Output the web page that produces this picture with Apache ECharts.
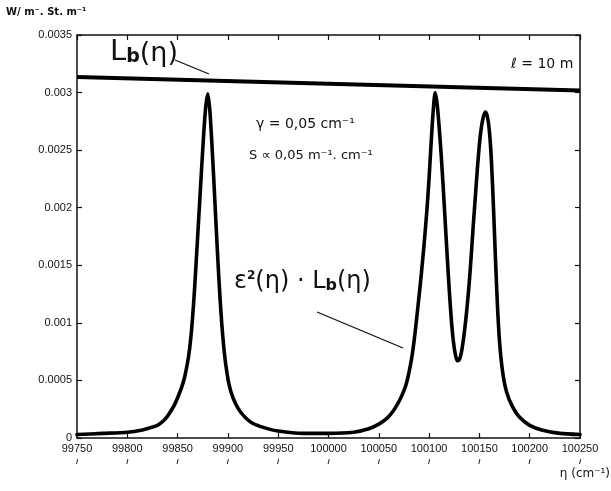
<!DOCTYPE html>
<html>
<head>
<meta charset="utf-8">
<script src="https://cdn.jsdelivr.net/npm/echarts@6/dist/echarts.min.js"></script>
<style>
  html, body { margin: 0; padding: 0; background: #ffffff; }
  #chart { width: 611px; height: 491px; }
</style>
</head>
<body>
<div id="chart"></div>
<script>
// Wavenumber (cm⁻¹) and emitted radiance ε²(η)·Lb(η)
const wavenumber = [
  99750, 99775, 99800, 99815, 99823, 99830, 99836, 99840, 99843, 99847,
  99850, 99854, 99857, 99860, 99862, 99864, 99866, 99868, 99870, 99872,
  99874, 99876, 99878, 99880, 99882, 99884, 99886, 99888, 99890, 99892,
  99894, 99896, 99898, 99901, 99905, 99910, 99916, 99924, 99936, 99950,
  99975, 100000, 100025, 100040, 100050, 100058, 100064, 100069, 100073, 100077,
  100080, 100083, 100086, 100089, 100092, 100095, 100098, 100100, 100102, 100104,
  100106, 100108, 100110, 100112, 100114, 100116, 100118, 100120, 100122, 100124,
  100126, 100128, 100130, 100132, 100134, 100136, 100138, 100140, 100142, 100144,
  100146, 100148, 100150, 100152, 100154, 100156, 100158, 100160, 100162, 100164,
  100166, 100168, 100170, 100173, 100177, 100183, 100190, 100200, 100212, 100230,
  100250
];
const emission = [
  0.00003, 0.00004, 0.00005, 0.00007, 0.00009, 0.00011, 0.00015, 0.00019, 0.00023, 0.00029,
  0.00035, 0.00044, 0.00053, 0.00066, 0.00078, 0.00095, 0.00118, 0.00146, 0.00176, 0.00206,
  0.00236, 0.00265, 0.00288, 0.00299, 0.00285, 0.00257, 0.00224, 0.00189, 0.00155, 0.00124,
  0.00098, 0.00078, 0.00063, 0.00047, 0.00035, 0.00026, 0.00019, 0.00013, 0.00009, 0.00006,
  0.00004, 0.00004, 0.00005, 0.00008, 0.00012, 0.00017, 0.00023, 0.00030, 0.00037, 0.00046,
  0.00057, 0.00071, 0.00091, 0.00115, 0.00140, 0.00168, 0.00200, 0.00226, 0.00256, 0.00283,
  0.00300, 0.00290, 0.00270, 0.00246, 0.00218, 0.00188, 0.00158, 0.00129, 0.00104, 0.00085,
  0.00073, 0.00067, 0.00068, 0.00074, 0.00085, 0.00099, 0.00116, 0.00136, 0.00160, 0.00186,
  0.00210, 0.00234, 0.00255, 0.00270, 0.00279, 0.00283, 0.00279, 0.00266, 0.00240, 0.00200,
  0.00155, 0.00114, 0.00084, 0.00058, 0.00040, 0.00027, 0.00018, 0.00011, 0.00007, 0.00004,
  0.00003
];

// Blackbody radiance Lb(η) across the band
const lbWavenumber = [99750, 100250];
const lbRadiance = [0.003136, 0.003017];

// Axis ranges and tick steps
const xRange = [99750, 100250];
const xStep = 50;
const yRange = [0, 0.0035];
const yStep = 0.0005;

const chart = echarts.init(document.getElementById('chart'), null, { renderer: 'canvas' });

const curve = wavenumber.map((w, i) => [w, emission[i]]);
const lbLine = lbWavenumber.map((w, i) => [w, lbRadiance[i]]);

const sans = "'Liberation Sans', Arial, sans-serif";
const hand = "'DejaVu Sans', sans-serif";
const ink = '#111111';

const frameX = {
  type: 'value', min: xRange[0], max: xRange[1], interval: xStep,
  axisLine: { onZero: false, lineStyle: { color: ink, width: 1.5 } },
  axisTick: { inside: true, length: 5, lineStyle: { color: ink, width: 1.2 } },
  splitLine: { show: false }
};
const frameY = {
  type: 'value', min: yRange[0], max: yRange[1], interval: yStep,
  axisLine: { show: true, onZero: false, lineStyle: { color: ink, width: 1.5 } },
  axisTick: { show: true, inside: true, length: 5, lineStyle: { color: ink, width: 1.2 } },
  splitLine: { show: false }
};

const option = {
  animation: false,
  backgroundColor: '#ffffff',
  grid: { left: 77, right: 31, top: 35, bottom: 53 },
  xAxis: [
    Object.assign({}, frameX, {
      position: 'bottom',
      axisLabel: {
        color: ink, fontFamily: sans, fontSize: 11, margin: 4,
        formatter: v => v + '\n{c|/}',
        lineHeight: 14,
        rich: { c: { fontSize: 8, fontWeight: 'bold', lineHeight: 12, color: ink, fontFamily: sans } }
      }
    }),
    Object.assign({}, frameX, { position: 'top', axisLabel: { show: false } })
  ],
  yAxis: [
    Object.assign({}, frameY, {
      position: 'left',
      axisLabel: {
        color: ink, fontFamily: sans, fontSize: 11, margin: 5,
        formatter: v => String(+v.toFixed(4))
      }
    }),
    Object.assign({}, frameY, { position: 'right', axisLabel: { show: false } })
  ],
  series: [
    {
      name: 'Lb', type: 'line', data: lbLine, showSymbol: false,
      lineStyle: { color: '#000', width: 4 }, z: 3
    },
    {
      name: 'ε²·Lb', type: 'line', data: curve, showSymbol: false,
      smooth: 0.25,
      lineStyle: { color: '#000', width: 3.6, join: 'round', cap: 'round' }, z: 4
    }
  ],
  graphic: [
    // unit of the radiance axis
    { type: 'text', left: 6, top: 7, style: {
        text: 'W/ m⁻. St. m⁻¹', font: 'bold 10px ' + hand, fill: ink } },
    // Lb(η) label with its leader
    { type: 'text', left: 110, top: 38, style: {
        text: '{L|L}{b|b}{p|(η)}', fill: ink,
        rich: {
          L: { fontSize: 29, fontFamily: hand, fill: ink, verticalAlign: 'bottom' },
          b: { fontSize: 19, fontFamily: hand, fill: ink, verticalAlign: 'bottom', fontWeight: 'bold' },
          p: { fontSize: 27, fontFamily: hand, fill: ink, verticalAlign: 'bottom' }
        } } },
    { type: 'line', shape: { x1: 175, y1: 60, x2: 209, y2: 74 }, style: { stroke: ink, lineWidth: 1.3 } },
    // path length
    { type: 'text', left: 511, top: 57, style: {
        text: 'ℓ = 10 m', font: '14px ' + hand, fill: ink } },
    // line width and intensity
    { type: 'text', left: 256, top: 117, style: {
        text: 'γ = 0,05 cm⁻¹', font: '14px ' + hand, fill: ink } },
    { type: 'text', left: 249, top: 149, style: {
        text: 'S ∝ 0,05 m⁻¹. cm⁻¹', font: '13px ' + hand, fill: ink } },
    // ε²(η)·Lb(η) label with its leader
    { type: 'text', left: 234, top: 270, style: {
        text: '{a|ε}{s|2}{a|(η) · L}{b|b}{a|(η)}', fill: ink,
        rich: {
          a: { fontSize: 24, fontFamily: hand, fill: ink, verticalAlign: 'bottom' },
          s: { fontSize: 12, fontFamily: hand, fill: ink, verticalAlign: 'top', fontWeight: 'bold' },
          b: { fontSize: 16, fontFamily: hand, fill: ink, verticalAlign: 'bottom', fontWeight: 'bold' }
        } } },
    { type: 'line', shape: { x1: 317, y1: 312, x2: 403, y2: 348 }, style: { stroke: ink, lineWidth: 1.3 } },
    // wavenumber axis title
    { type: 'text', right: 1, top: 468, style: {
        text: 'η (cm⁻¹)', font: '12px ' + hand, fill: ink } }
  ]
};

chart.setOption(option);
</script>
</body>
</html>
